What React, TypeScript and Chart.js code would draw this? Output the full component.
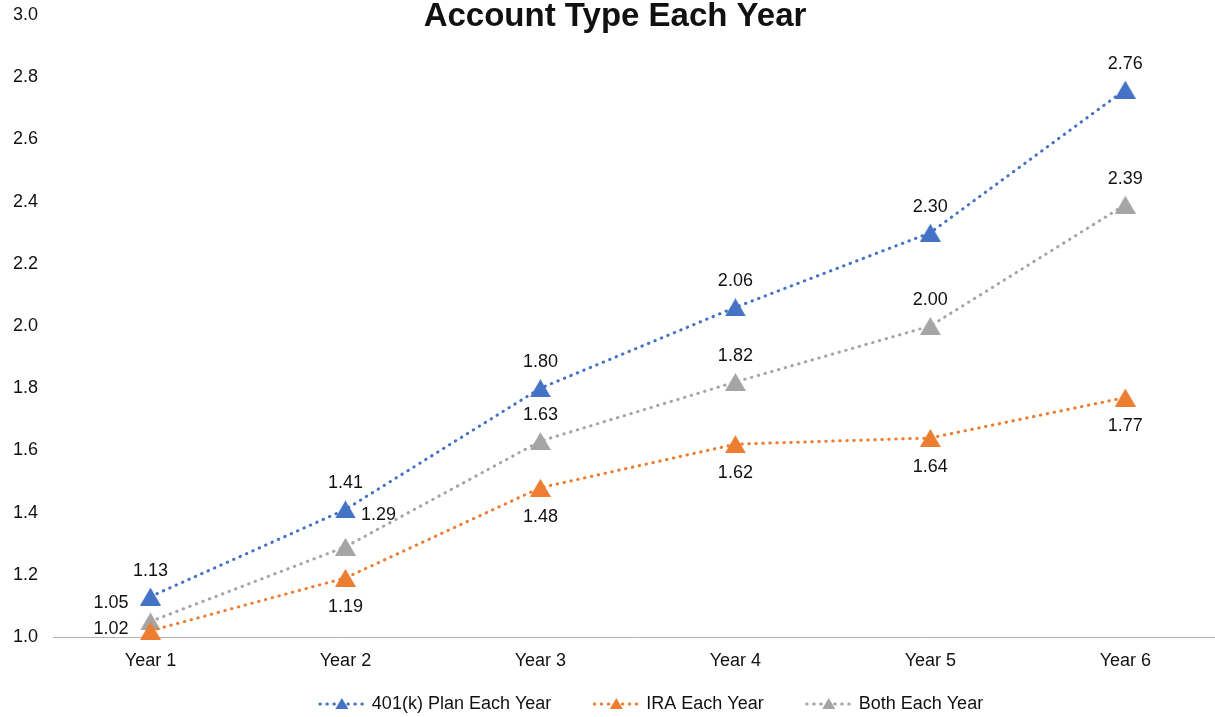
import React, { useEffect, useRef } from 'react';
import { Chart, registerables } from 'chart.js';

Chart.register(...registerables);

const chartTitle = 'Account Type Each Year';
const categories = ['Year 1', 'Year 2', 'Year 3', 'Year 4', 'Year 5', 'Year 6'];
const plan401k = [1.13, 1.41, 1.8, 2.06, 2.3, 2.76];
const iraValues = [1.02, 1.19, 1.48, 1.62, 1.64, 1.77];
const bothValues = [1.05, 1.29, 1.63, 1.82, 2.0, 2.39];
const yTickValues = [1.0, 1.2, 1.4, 1.6, 1.8, 2.0, 2.2, 2.4, 2.6, 2.8, 3.0];
const seriesNames = ['401(k) Plan Each Year', 'IRA Each Year', 'Both Each Year'];
const seriesColors = ['#4472C4', '#ED7D31', '#A5A5A5'];

const FONT = '"Liberation Sans", Arial, Helvetica, sans-serif';
const TEXT = '#111111';
const DOT_DASH = [0.5, 6.5];

// label placement: above (-) or below (+) per series, with a few manual nudges
const labelOffset = [-26, 29, -26];
const labelNudges: Record<string, [number, number]> = {
  '1-0': [-39.5, -2],
  '2-0': [-39.5, -18.5],
  '2-1': [33, -32],
};

function makeTriangle(color: string, w: number, h: number) {
  const c = document.createElement('canvas');
  c.width = w;
  c.height = h;
  const g = c.getContext('2d')!;
  g.fillStyle = color;
  g.beginPath();
  g.moveTo(w / 2, 0);
  g.lineTo(w, h);
  g.lineTo(0, h);
  g.closePath();
  g.fill();
  return c;
}

const overlayPlugin = {
  id: 'overlay',
  afterDatasetsDraw(chart: any) {
    const ctx = chart.ctx;
    ctx.save();
    ctx.font = `18px ${FONT}`;
    ctx.fillStyle = TEXT;
    ctx.textAlign = 'center';
    ctx.textBaseline = 'middle';
    chart.data.datasets.forEach((ds: any, di: number) => {
      const meta = chart.getDatasetMeta(di);
      meta.data.forEach((pt: any, i: number) => {
        const v = ds.data[i].y;
        const nudge = labelNudges[`${di}-${i}`];
        const dx = nudge ? nudge[0] : 0;
        const dy = nudge ? nudge[1] : labelOffset[di];
        ctx.fillText(v.toFixed(2), pt.x + dx, pt.y + dy);
      });
    });
    ctx.restore();
  },
  afterDraw(chart: any) {
    const ctx = chart.ctx;
    ctx.save();
    // title
    ctx.font = `bold 33px ${FONT}`;
    ctx.fillStyle = TEXT;
    ctx.textAlign = 'center';
    ctx.textBaseline = 'middle';
    ctx.fillText(chartTitle, 615, 17);

    // legend
    ctx.font = `18px ${FONT}`;
    const markerW = 46;
    const gap = 7;
    const itemGap = 42;
    const widths = seriesNames.map((n) => markerW + gap + ctx.measureText(n).width);
    const total = widths.reduce((a, b) => a + b, 0) + itemGap * (seriesNames.length - 1);
    let x = 651 - total / 2;
    const y = 704;
    seriesNames.forEach((name, i) => {
      const color = seriesColors[i];
      ctx.save();
      ctx.strokeStyle = color;
      ctx.lineWidth = 3;
      ctx.lineCap = 'round';
      ctx.setLineDash(DOT_DASH);
      ctx.beginPath();
      ctx.moveTo(x + 1, y);
      ctx.lineTo(x + markerW - 1, y);
      ctx.stroke();
      ctx.restore();
      const cx = x + markerW / 2;
      ctx.fillStyle = color;
      ctx.beginPath();
      ctx.moveTo(cx, y - 6);
      ctx.lineTo(cx + 6.5, y + 5);
      ctx.lineTo(cx - 6.5, y + 5);
      ctx.closePath();
      ctx.fill();
      ctx.fillStyle = TEXT;
      ctx.textAlign = 'left';
      ctx.textBaseline = 'middle';
      ctx.fillText(name, x + markerW + gap, y);
      x += widths[i] + itemGap;
    });
    ctx.restore();
  },
};

export default function App() {
  const canvasRef = useRef<HTMLCanvasElement | null>(null);

  useEffect(() => {
    document.body.style.margin = '0';
    const canvas = canvasRef.current;
    if (!canvas) return;
    const seriesValues = [plan401k, iraValues, bothValues];
    const chart = new Chart(canvas, {
      type: 'line',
      data: {
        datasets: seriesValues.map((vals, si) => ({
          label: seriesNames[si],
          data: vals.map((v, i) => ({ x: i, y: v })),
          borderColor: seriesColors[si],
          backgroundColor: seriesColors[si],
          borderWidth: 3,
          borderDash: DOT_DASH,
          borderCapStyle: 'round',
          pointStyle: makeTriangle(seriesColors[si], 21, 18),
          pointRadius: 11,
          pointHoverRadius: 11,
          pointBorderWidth: 0,
          pointBackgroundColor: seriesColors[si],
          pointBorderColor: seriesColors[si],
          tension: 0,
          fill: false,
          clip: false,
        })) as any,
      },
      options: {
        animation: false,
        responsive: false,
        maintainAspectRatio: false,
        layout: { autoPadding: false, padding: { top: 15, right: 0, bottom: 0, left: 0 } },
        plugins: {
          legend: { display: false },
          title: { display: false },
          tooltip: { enabled: false },
        },
        scales: {
          x: {
            type: 'linear',
            min: -0.5,
            max: 5.46,
            grid: { display: false, drawTicks: false },
            border: { display: true, color: '#b4b4b4', width: 1 },
            afterBuildTicks: (s: any) => {
              s.ticks = categories.map((_, i) => ({ value: i }));
            },
            afterFit: (s: any) => {
              s.height = 80;
              s.paddingLeft = 0;
              s.paddingRight = 0;
            },
            ticks: {
              autoSkip: false,
              maxRotation: 0,
              padding: 13,
              color: TEXT,
              font: { family: FONT, size: 18 },
              callback: (v: any) => categories[Number(v)] ?? '',
            },
          },
          y: {
            type: 'linear',
            min: 1,
            max: 3,
            grid: { display: false, drawTicks: false },
            border: { display: false },
            afterBuildTicks: (s: any) => {
              s.ticks = yTickValues.map((v) => ({ value: v }));
            },
            afterFit: (s: any) => {
              s.width = 53;
              s.paddingTop = 0;
              s.paddingBottom = 0;
            },
            ticks: {
              padding: 15,
              color: TEXT,
              font: { family: FONT, size: 18 },
              callback: (v: any) => Number(v).toFixed(1),
            },
          },
        },
      },
      plugins: [overlayPlugin],
    });
    return () => chart.destroy();
  }, []);

  return (
    <div style={{ position: 'absolute', left: 0, top: 0, width: 1215, height: 717, background: '#fff' }}>
      <canvas ref={canvasRef} width={1215} height={717} style={{ display: 'block' }} />
    </div>
  );
}
